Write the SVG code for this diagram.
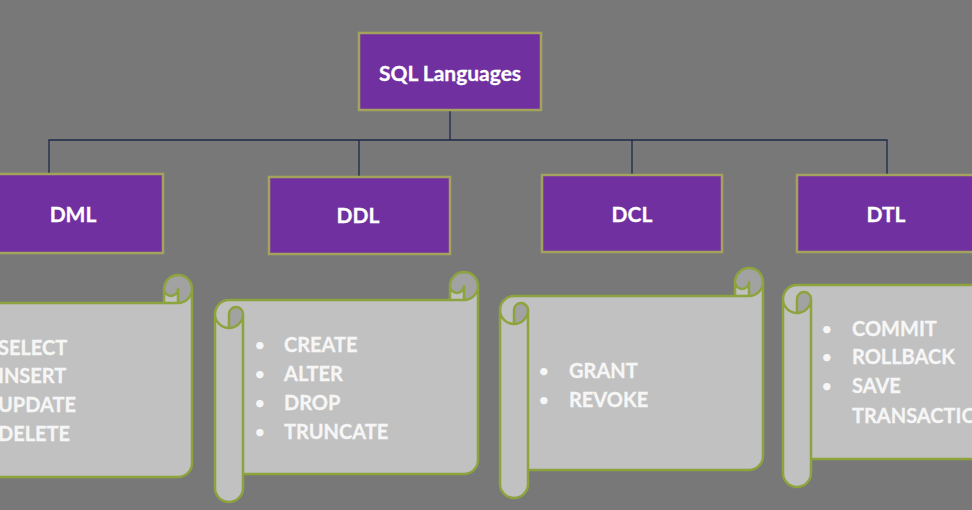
<svg xmlns="http://www.w3.org/2000/svg" width="972" height="510" viewBox="0 0 972 510">
<style>
.bg{fill:#787878}
.box{fill:#7030a0;stroke:#a3a35e;stroke-width:2.5}
.bt{font-family:Lato,"Open Sans",sans-serif;font-weight:bold;font-size:21px;fill:#ffffff;text-anchor:middle;stroke:#ffffff;stroke-width:0.3}
.main{fill:#c1c1c1}
.dark{fill:#a2a2a2}
.ol{fill:none;stroke:#8da43e;stroke-width:2.5;stroke-linejoin:round}
.it{font-family:Lato,"Open Sans",sans-serif;font-weight:bold;font-size:20px;fill:#f6f6f6;stroke:#f6f6f6;stroke-width:0.3}
.bu{font-family:Lato,"Open Sans",sans-serif;font-size:20px;fill:#f6f6f6}
.conn{fill:none;stroke:#1c2a48;stroke-width:1.3}
</style>
<rect class="bg" x="0" y="0" width="972" height="510"/>
<g id="connectors">
<path class="conn" d="M450,111 V140 M49,174 V140 H887 V174 M359,140 V177 M632,140 V175"/>
</g>
<g id="root">
<rect class="box" x="359" y="33" width="182" height="77"/>
<text class="bt" x="450" y="81" font-size="22.5">SQL Languages</text>
</g>
<g id="dml">
<rect class="box" x="-3" y="174" width="166" height="79"/>
<text class="bt" x="73" y="222">DML</text>
</g>
<g id="ddl">
<rect class="box" x="269" y="177" width="181" height="77"/>
<text class="bt" x="358" y="223">DDL</text>
</g>
<g id="dcl">
<rect class="box" x="542" y="175" width="180" height="77"/>
<text class="bt" x="632" y="222">DCL</text>
</g>
<g id="dtl">
<rect class="box" x="797" y="175" width="190" height="77"/>
<text class="bt" x="886" y="222">DTL</text>
</g>
<g id="dml-list">
<path class="main" d="M 192,289 A 14 14 0 0 1 178,303 L 178,289 A 7 7 0 0 1 164,289 L 164,303 L -56,303 A 14 14 0 0 0 -70,317 L -70,491 A 14 14 0 0 0 -42,491 L -42,477 L 178,477 A 14 14 0 0 0 192,463 Z"/>
<path class="dark" d="M -56,331 A 14 14 0 0 0 -42,317 A 7 7 0 0 0 -56,317 Z M 178,303 A 14 14 0 1 0 164,289 A 7 7 0 0 0 178,289 Z"/>
<path class="ol" d="M -70,317 A 14 14 0 0 1 -56,303 L 164,303 L 164,289 A 14 14 0 0 1 192,289 L 192,463 A 14 14 0 0 1 178,477 L -42,477 L -42,491 A 14 14 0 0 1 -70,491 Z M 164,303 L 178,303 A 14 14 0 0 0 192,289 M 178,303 L 178,289 A 7 7 0 0 1 164,289 M -56,331 L -56,317 A 7 7 0 0 1 -42,317 A 14 14 0 0 1 -70,317 M -42,317 L -42,477"/>
<text class="it" x="-2" y="355">SELECT</text>
<text class="it" x="-2" y="383">INSERT</text>
<text class="it" x="-2" y="412">UPDATE</text>
<text class="it" x="-2" y="441">DELETE</text>
</g>
<g id="ddl-list">
<path class="main" d="M 478,286 A 14 14 0 0 1 464,300 L 464,286 A 7 7 0 0 1 450,286 L 450,300 L 229,300 A 14 14 0 0 0 215,314 L 215,488 A 14 14 0 0 0 243,488 L 243,474 L 464,474 A 14 14 0 0 0 478,460 Z"/>
<path class="dark" d="M 229,328 A 14 14 0 0 0 243,314 A 7 7 0 0 0 229,314 Z M 464,300 A 14 14 0 1 0 450,286 A 7 7 0 0 0 464,286 Z"/>
<path class="ol" d="M 215,314 A 14 14 0 0 1 229,300 L 450,300 L 450,286 A 14 14 0 0 1 478,286 L 478,460 A 14 14 0 0 1 464,474 L 243,474 L 243,488 A 14 14 0 0 1 215,488 Z M 450,300 L 464,300 A 14 14 0 0 0 478,286 M 464,300 L 464,286 A 7 7 0 0 1 450,286 M 229,328 L 229,314 A 7 7 0 0 1 243,314 A 14 14 0 0 1 215,314 M 243,314 L 243,474"/>
<text class="bu" x="254" y="352">•</text><text class="it" x="284" y="352">CREATE</text>
<text class="bu" x="254" y="381">•</text><text class="it" x="284" y="381">ALTER</text>
<text class="bu" x="254" y="410">•</text><text class="it" x="284" y="410">DROP</text>
<text class="bu" x="254" y="439">•</text><text class="it" x="284" y="439">TRUNCATE</text>
</g>
<g id="dcl-list">
<path class="main" d="M 763,282 A 14 14 0 0 1 749,296 L 749,282 A 7 7 0 0 1 735,282 L 735,296 L 514,296 A 14 14 0 0 0 500,310 L 500,484 A 14 14 0 0 0 528,484 L 528,470 L 749,470 A 14 14 0 0 0 763,456 Z"/>
<path class="dark" d="M 514,324 A 14 14 0 0 0 528,310 A 7 7 0 0 0 514,310 Z M 749,296 A 14 14 0 1 0 735,282 A 7 7 0 0 0 749,282 Z"/>
<path class="ol" d="M 500,310 A 14 14 0 0 1 514,296 L 735,296 L 735,282 A 14 14 0 0 1 763,282 L 763,456 A 14 14 0 0 1 749,470 L 528,470 L 528,484 A 14 14 0 0 1 500,484 Z M 735,296 L 749,296 A 14 14 0 0 0 763,282 M 749,296 L 749,282 A 7 7 0 0 1 735,282 M 514,324 L 514,310 A 7 7 0 0 1 528,310 A 14 14 0 0 1 500,310 M 528,310 L 528,470"/>
<text class="bu" x="538" y="378">•</text><text class="it" x="569" y="378">GRANT</text>
<text class="bu" x="538" y="407">•</text><text class="it" x="569" y="407">REVOKE</text>
</g>
<g id="dtl-list">
<path class="main" d="M 1046,271 A 14 14 0 0 1 1032,285 L 1032,271 A 7 7 0 0 1 1018,271 L 1018,285 L 797,285 A 14 14 0 0 0 783,299 L 783,473 A 14 14 0 0 0 811,473 L 811,459 L 1032,459 A 14 14 0 0 0 1046,445 Z"/>
<path class="dark" d="M 797,313 A 14 14 0 0 0 811,299 A 7 7 0 0 0 797,299 Z M 1032,285 A 14 14 0 1 0 1018,271 A 7 7 0 0 0 1032,271 Z"/>
<path class="ol" d="M 783,299 A 14 14 0 0 1 797,285 L 1018,285 L 1018,271 A 14 14 0 0 1 1046,271 L 1046,445 A 14 14 0 0 1 1032,459 L 811,459 L 811,473 A 14 14 0 0 1 783,473 Z M 1018,285 L 1032,285 A 14 14 0 0 0 1046,271 M 1032,285 L 1032,271 A 7 7 0 0 1 1018,271 M 797,313 L 797,299 A 7 7 0 0 1 811,299 A 14 14 0 0 1 783,299 M 811,299 L 811,459"/>
<text class="bu" x="821" y="336">•</text><text class="it" x="852" y="336">COMMIT</text>
<text class="bu" x="821" y="364">•</text><text class="it" x="852" y="364">ROLLBACK</text>
<text class="bu" x="821" y="393">•</text><text class="it" x="852" y="393">SAVE</text>
<text class="it" x="852" y="423">TRANSACTION</text>
</g>
</svg>
